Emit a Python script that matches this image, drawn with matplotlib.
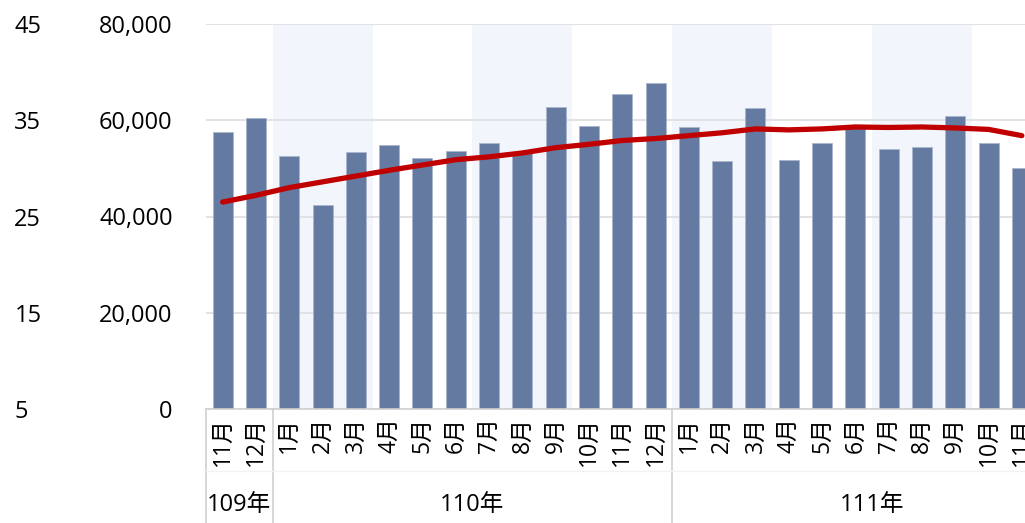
import matplotlib
matplotlib.use('Agg')
import matplotlib.pyplot as plt
import matplotlib.transforms as mtransforms

plt.rcParams['font.family'] = ['Open Sans', 'Noto Sans CJK TC', 'DejaVu Sans']

# monthly counts (left scale 0-80,000) and red trend line (outer scale 5-45)
months = ['11月', '12月',
          '1月', '2月', '3月', '4月', '5月', '6月', '7月', '8月', '9月', '10月', '11月', '12月',
          '1月', '2月', '3月', '4月', '5月', '6月', '7月', '8月', '9月', '10月', '11月']
counts = [57600, 60400,
          52600, 42400, 53500, 54800, 52200, 53600, 55200, 53200, 62700, 58900, 65400, 67700,
          58700, 51500, 62500, 51700, 55300, 58400, 54100, 54400, 60800, 55200, 50000]
trend = [26.5, 27.2,
         28.0, 28.6, 29.2, 29.8, 30.35, 30.9, 31.2, 31.6, 32.15, 32.5, 32.9, 33.1,
         33.4, 33.7, 34.1, 34.0, 34.1, 34.3, 34.25, 34.3, 34.2, 34.05, 33.4]
years = ['109年', '110年', '111年']
year_spans = [(0, 2), (2, 14), (14, 26)]
shaded = [(2, 5), (8, 11), (14, 17), (20, 23)]

bar_color = '#647aa0'
line_color = '#c00000'
grid_color = '#dddddd'

fig = plt.figure(figsize=(10.25, 5.23), dpi=100)
ax = fig.add_axes([206 / 1025, 114 / 523, 1 - 206 / 1025, 385 / 523])
x = list(range(len(months)))

for a, b in shaded:
    ax.axvspan(a - 0.5, b - 0.5, color='#f2f6fc', zorder=0, lw=0)

ax.bar(x, counts, width=0.6, color=bar_color, edgecolor='#a9b6cc', linewidth=0.6, zorder=2)
ax.set_ylim(0, 80000)
ax.set_yticks([0, 20000, 40000, 60000, 80000])
ax.set_yticklabels(['{:,}'.format(v) for v in [0, 20000, 40000, 60000, 80000]])
ax.yaxis.grid(True, color=grid_color, lw=1.2, zorder=1)
ax.set_axisbelow(True)
ax.set_xlim(-0.5, (1025 - 206) / 33.3 - 0.5)
ax.tick_params(axis='y', length=0, pad=24, labelsize=17)
ax.set_xticks(x)
ax.set_xticklabels(months, rotation=90, fontsize=16.5, va='top')
ax.tick_params(axis='x', length=0, pad=6)
for s in ['top', 'right', 'left']:
    ax.spines[s].set_visible(False)
ax.spines['bottom'].set_color('#d0d0d0')
ax.spines['bottom'].set_linewidth(1.2)

ax2 = ax.twinx()
ax2.plot(x, trend, color=line_color, lw=3.8, solid_capstyle='round', zorder=3)
ax2.set_ylim(5, 45)
ax2.set_yticks([5, 15, 25, 35, 45])
ax2.yaxis.set_ticks_position('left')
ax2.yaxis.set_label_position('left')
ax2.tick_params(axis='y', length=0, pad=138, labelsize=17)
for lbl in ax2.get_yticklabels():
    lbl.set_horizontalalignment('left')
for s in ax2.spines.values():
    s.set_visible(False)

# two-level category axis: separators and year labels
trans = mtransforms.blended_transform_factory(ax.transData, ax.transAxes)
for a, b in year_spans:
    ax.plot([a - 0.5, a - 0.5], [0, -0.3], transform=trans, color='#d0d0d0', lw=1.2, clip_on=False)
for (a, b), yr in zip(year_spans, years):
    ax.text((a + b - 1) / 2, -0.25, yr, transform=trans, ha='center', va='center', fontsize=17)
ax.plot([-0.5, 30], [-0.16, -0.16], transform=trans, color='#f2f2f2', lw=1, clip_on=False)

fig.savefig('out.png', dpi=100)
